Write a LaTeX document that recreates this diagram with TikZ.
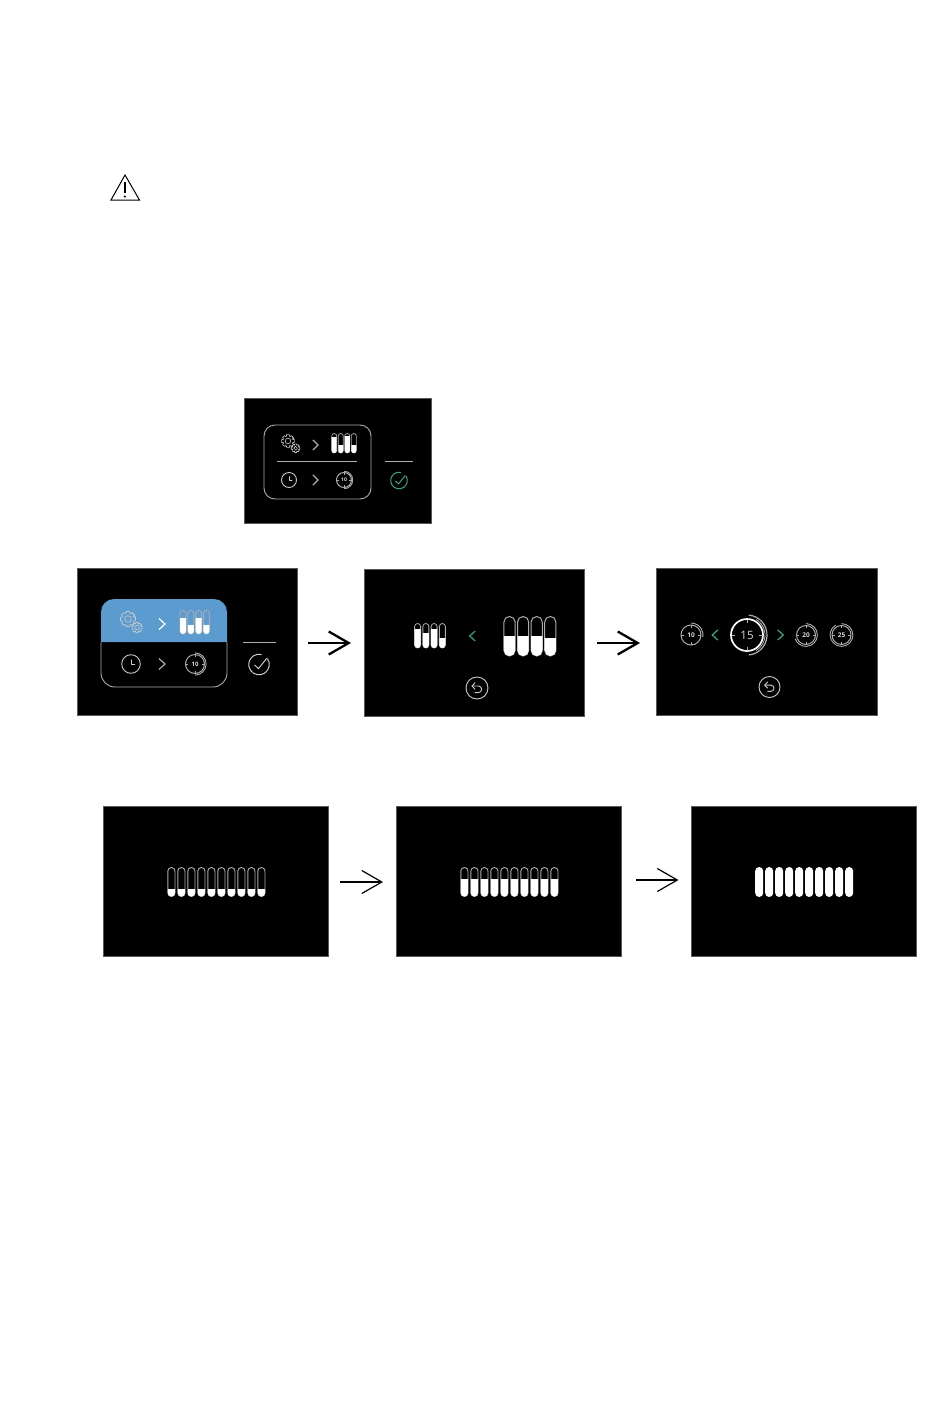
\documentclass[tikz,border=0pt]{standalone}
\usepackage{fontspec}
\setmainfont{Open Sans}
\usetikzlibrary{arrows.meta}
\definecolor{paneblue}{HTML}{5B9BD0}
\definecolor{tealgreen}{HTML}{35A58C}
\definecolor{softline}{gray}{0.68}
\definecolor{edgegray}{gray}{0.35}
\tikzset{
  panel/.style={fill=black,draw=edgegray,line width=0.6pt,minimum width=#1,inner sep=0pt,outer sep=0pt},
  icon line/.style={white!80!black,line width=0.9pt,line join=round,line cap=round},
  barbarrow/.style={black,line width=#1,-{Straight Barb[length=20pt,width=23pt,line width=#1]}},
  digits/.style={white!85!black,inner sep=0pt,font=\fontsize{#1}{#1}\selectfont},
  warn/.style={black,line width=1pt,line join=miter}
}
% one slider: centre x, width, top, bottom, fill start, line width
\newcommand{\oneslider}[6]{%
  \pgfmathsetmacro{\sleft}{#1-#2/2}\pgfmathsetmacro{\sright}{#1+#2/2}\pgfmathsetmacro{\srad}{#2/2-0.01}%
  \draw[softline,line width=#6pt,rounded corners=\srad pt] (\sleft,#4) rectangle (\sright,#3);
  \fill[white] (\sleft,#5) -- (\sright,#5) [rounded corners=\srad pt] -- (\sright,#4) -- (\sleft,#4) [sharp corners] -- cycle;
}
% row: first centre, pitch, width, top, bottom, line width, list of fills
\newcommand{\sliderrow}[7]{%
  \foreach \fy [count=\ci from 0] in {#7}{%
    \pgfmathsetmacro{\cx}{#1+\ci*#2}%
    \oneslider{\cx}{#3}{#4}{#5}{\fy}{#6}%
  }%
}
% gear: x, y, scale
\newcommand{\gearshape}{%
    \draw[icon line,rounded corners=0.4pt,line width=0.6pt]
      \foreach \a in {0,45,...,315}{
        (\a-13:9) -- (\a+13:9) -- (\a+20:6.7) -- (\a+45-20:6.7) -- (\a+45-13:9)
      } -- cycle;
    \draw[icon line,line width=0.6pt] (0,0) circle (3.9);
}
\newcommand{\geargrp}[3]{%
  \begin{scope}[shift={(#1,#2)},scale=#3]
    \gearshape
    \begin{scope}[shift={(10.5,10)},scale=0.68]
      \gearshape
    \end{scope}
  \end{scope}
}
% chevron: x, y, half width (signed), half height, colour
\newcommand{\chev}[5]{%
  \draw[#5,line width=1.2pt,line join=miter] (#1-#3,#2-#4) -- (#1+#3,#2) -- (#1-#3,#2+#4);
}
% clock: x, y, r
\newcommand{\clockicon}[3]{%
  \draw[icon line] (#1,#2) circle (#3);
  \draw[icon line,line width=0.7pt] (#1,#2-0.45*#3) -- (#1,#2) -- (#1+0.4*#3,#2);
}
% timer: name, x, y, r, text, font size, arc start, arc end, outer factor
\newcommand{\timer}[9]{%
  \draw[softline,line width=1pt] (#2,#3) circle (#4);
  \draw[softline,line width=0.9pt] (#2,#3) ++(#7:#9*#4) arc (#7:#8:#9*#4);
  \foreach \t in {0,90,180,270}{%
    \draw[softline,line width=0.5pt] (#2,#3) ++(\t:0.72*#4) -- ++(\t:0.26*#4);
  }
  \node[digits=#6,font=\fontsize{#6}{#6}\selectfont\bfseries] (#1) at (#2,#3) {#5};
}
% confirm tick: x, y, r, colour
\newcommand{\tickicon}[4]{%
  \draw[#4,line width=1pt] (#1,#2) ++(-35:#3) arc (-35:285:#3);
  \draw[#4,line width=1pt,line join=miter] (#1-0.42*#3,#2+0.05*#3) -- (#1-0.05*#3,#2+0.4*#3) -- (#1+0.75*#3,#2-0.6*#3);
}
% back icon: x, y, r
\newcommand{\backicon}[3]{%
  \draw[icon line] (#1,#2) circle (#3);
  \begin{scope}[shift={(#1,#2)},scale=#3/11]
    \draw[icon line] (-5,-2) -- (1.4,-2) arc (-90:90:3.3) -- (-2,4.6);
    \draw[icon line] (-2,-5.2) -- (-5,-2) -- (-2,1.2);
  \end{scope}
}
\begin{document}
\begin{tikzpicture}[x=1pt,y=-1pt]
\useasboundingbox (0,0) rectangle (950,1413);
\fill[white] (0,0) rectangle (950,1413);

% warning sign
\draw[warn] (125,175) -- (111,200) -- (139.5,200) -- cycle;
\draw[black,line width=1.8pt] (124.8,182) -- (124.8,193);
\fill[black] (124.8,196.6) circle (1.2);

% panels
\node[panel=187.4pt,minimum height=125.4pt] (p0) at (337.8,460.8) {};
\node[panel=220.4pt,minimum height=147.4pt] (p1) at (187.2,641.8) {};
\node[panel=220.4pt,minimum height=147.4pt] (p2) at (474.2,642.8) {};
\node[panel=221.4pt,minimum height=147.4pt] (p3) at (766.8,641.8) {};
\node[panel=225.4pt,minimum height=150.4pt] (q1) at (215.8,881.3) {};
\node[panel=225.4pt,minimum height=150.4pt] (q2) at (508.8,881.3) {};
\node[panel=225.4pt,minimum height=150.4pt] (q3) at (803.8,881.3) {};

% panel 0
\draw[softline,line width=0.9pt,rounded corners=11pt] (264,425) rectangle (371,499);
\draw[softline,line width=0.7pt] (277,461) -- (357,461);
\geargrp{288}{441}{0.72}
\chev{315.5}{445}{2.6}{5}{softline}
\sliderrow{334.2}{6.55}{5}{433.5}{453}{0.7}{437,445,436,445}
\clockicon{289}{480}{7.5}
\chev{315.5}{480}{2.6}{5}{softline}
\timer{t0}{344}{480}{7.5}{10}{5}{-90}{90}{1.17}
\draw[softline,line width=1pt] (385,461) -- (413,461);
\tickicon{399}{480.5}{8.3}{tealgreen}

% panel 1
\fill[paneblue] (101,642) [rounded corners=13pt] -- (101,599) -- (227,599) [sharp corners] -- (227,642) -- cycle;
\draw[softline,line width=0.9pt] (101,642) [rounded corners=14pt] -- (101,687) -- (227,687) [sharp corners] -- (227,642);
\geargrp{128}{619}{0.86}
\chev{162}{624}{3}{5.5}{white}
\sliderrow{183}{7.8}{6}{610.5}{634}{0.8}{618,625,618,625}
\clockicon{131}{664}{9.3}
\chev{162}{664}{3}{5.5}{softline}
\timer{t1}{195}{664}{9.5}{10}{6}{-90}{90}{1.17}
\draw[softline,line width=1pt] (243,642) -- (276,642);
\tickicon{259}{664.5}{10.3}{white!80!black}

% panel 2
\sliderrow{417.6}{8.25}{6}{623.5}{648}{0.8}{629,633,629,638}
\chev{472.5}{636}{-2.7}{5}{tealgreen}
\sliderrow{509.5}{13.6}{11.2}{616.5}{656}{1}{636,636,636,638}
\backicon{477}{688}{11}

% panel 3
\timer{t10}{691}{635}{10}{10}{6.5}{-90}{10}{1.2}
\chev{715}{635}{-2.8}{5}{tealgreen}
\draw[white,line width=1.7pt] (747,635) circle (16);
\draw[softline,line width=1.2pt] (747,635) ++(-85:20) arc (-85:85:20);
\draw[softline,line width=0.8pt] (747,635) ++(-60:18) arc (-60:60:18);
\foreach \t in {0,90,180,270}{\draw[softline,line width=0.6pt] (747,635) ++(\t:12) -- ++(\t:3.5);}
\node[digits=11.5] (t15) at (747,635) {15};
\chev{780.5}{635}{2.8}{5}{tealgreen}
\timer{t20}{806}{635}{9.5}{20}{6.5}{-90}{160}{1.2}
\timer{t25}{841.5}{635}{9.5}{25}{6.5}{-90}{240}{1.2}
\backicon{769.5}{687}{10.5}

% row 3 panels
\sliderrow{171.4}{10}{7.2}{867.5}{896.5}{0.9}{889,889,889,889,889,889,889,889,889,889}
\sliderrow{464.4}{10}{7.2}{867.5}{896.5}{0.9}{879,879,879,879,879,879,879,879,879,879}
\foreach \ci in {0,...,9}{%
  \fill[white,rounded corners=3.98pt] (755.2+\ci*10,867) rectangle (763.2+\ci*10,897);
}

% connectors
\coordinate (a1s) at (308,643); \coordinate (a1e) at (351,643);
\coordinate (a2s) at (597,643); \coordinate (a2e) at (640,643);
\coordinate (a3s) at (340,882); \coordinate (a3e) at (383,882);
\coordinate (a4s) at (636,880); \coordinate (a4e) at (678.5,880);
\draw[barbarrow=2.3pt] (a1s) -- (a1e);
\draw[barbarrow=2.3pt] (a2s) -- (a2e);
\draw[barbarrow=1.2pt] (a3s) -- (a3e);
\draw[barbarrow=1.2pt] (a4s) -- (a4e);
\end{tikzpicture}
\end{document}
